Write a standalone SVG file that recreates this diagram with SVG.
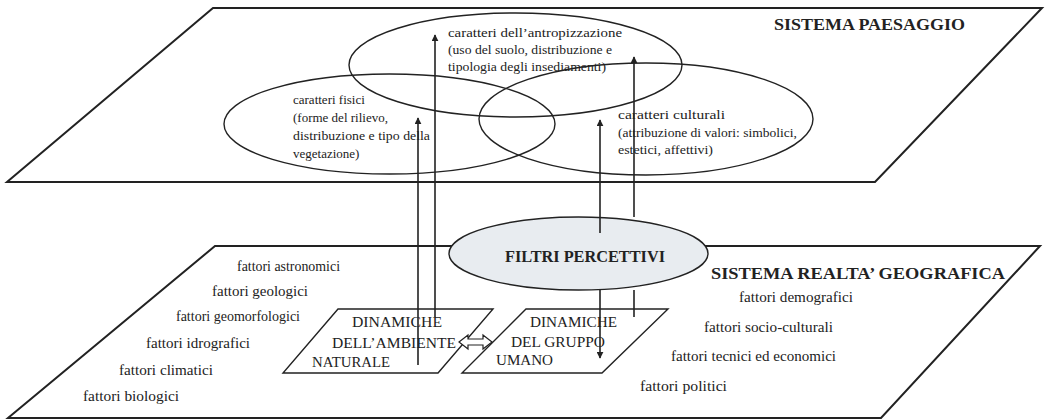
<svg xmlns="http://www.w3.org/2000/svg" width="1047" height="420" viewBox="0 0 1047 420">
<defs>
<style>
.plane{fill:#fff;stroke:#222;stroke-width:2;stroke-linejoin:miter}
.ell{fill:none;stroke:#222;stroke-width:1.4}
.box{fill:none;stroke:#222;stroke-width:1.4}
.ln{fill:none;stroke:#222;stroke-width:1.6}
.t{font-family:"Liberation Serif","Times New Roman",serif;fill:#222;font-size:13px}
.f{font-family:"Liberation Serif","Times New Roman",serif;fill:#222;font-size:14px}
.c{font-family:"Liberation Serif","Times New Roman",serif;fill:#222;font-size:14px}
.h{font-family:"Liberation Serif","Times New Roman",serif;fill:#222;font-size:17px;font-weight:bold}
</style>
<marker id="ah" viewBox="0 0 10 10" refX="9" refY="5" markerWidth="7" markerHeight="7" markerUnits="userSpaceOnUse" orient="auto">
<path d="M0,0 L10,5 L0,10 Z" fill="#222"/>
</marker>
</defs>
<rect width="1047" height="420" fill="#fff"/>

<g id="sistema-paesaggio">
<polygon class="plane" points="213,8 1042,8 875,182 7,182"/>
<text class="h" x="774" y="30" textLength="191" lengthAdjust="spacingAndGlyphs">SISTEMA PAESAGGIO</text>
</g>

<g id="sistema-realta">
<polygon class="plane" points="215,246 1040,246 881,418 8,418"/>
<text class="h" x="711" y="279" textLength="294" lengthAdjust="spacingAndGlyphs">SISTEMA REALTA’ GEOGRAFICA</text>
<text class="f" x="237" y="271" textLength="103" lengthAdjust="spacingAndGlyphs">fattori astronomici</text>
<text class="f" x="212" y="296" textLength="96" lengthAdjust="spacingAndGlyphs">fattori geologici</text>
<text class="f" x="176" y="321" textLength="124" lengthAdjust="spacingAndGlyphs">fattori geomorfologici</text>
<text class="f" x="146" y="348" textLength="104" lengthAdjust="spacingAndGlyphs">fattori idrografici</text>
<text class="f" x="119" y="375" textLength="94" lengthAdjust="spacingAndGlyphs">fattori climatici</text>
<text class="f" x="83" y="401" textLength="96" lengthAdjust="spacingAndGlyphs">fattori biologici</text>
<text class="f" x="739" y="302" textLength="114" lengthAdjust="spacingAndGlyphs">fattori demografici</text>
<text class="f" x="704" y="332" textLength="129" lengthAdjust="spacingAndGlyphs">fattori socio-culturali</text>
<text class="f" x="671" y="361" textLength="165" lengthAdjust="spacingAndGlyphs">fattori tecnici ed economici</text>
<text class="f" x="640" y="391" textLength="87" lengthAdjust="spacingAndGlyphs">fattori politici</text>
</g>

<g id="caratteri-fisici">
<ellipse class="ell" cx="389.5" cy="124" rx="165.5" ry="50"/>
<text class="t" x="293" y="104">caratteri fisici</text>
<text class="t" x="293" y="122">(forme del rilievo,</text>
<text class="t" x="293" y="140" textLength="137" lengthAdjust="spacingAndGlyphs">distribuzione e tipo della</text>
<text class="t" x="293" y="158">vegetazione)</text>
</g>

<g id="caratteri-antropizzazione">
<ellipse class="ell" cx="515.5" cy="65" rx="166.5" ry="52"/>
<text class="t" x="448" y="37" textLength="174" lengthAdjust="spacingAndGlyphs">caratteri dell’antropizzazione</text>
<text class="t" x="448" y="54" textLength="164" lengthAdjust="spacingAndGlyphs">(uso del suolo, distribuzione e</text>
<text class="t" x="448" y="71" textLength="158" lengthAdjust="spacingAndGlyphs">tipologia degli insediamenti)</text>
</g>

<g id="caratteri-culturali">
<ellipse class="ell" cx="646" cy="119" rx="167" ry="56"/>
<text class="t" x="618" y="119" textLength="107" lengthAdjust="spacingAndGlyphs">caratteri culturali</text>
<text class="t" x="618" y="137" textLength="179" lengthAdjust="spacingAndGlyphs">(attribuzione di valori: simbolici,</text>
<text class="t" x="618" y="154" textLength="95" lengthAdjust="spacingAndGlyphs">estetici, affettivi)</text>
</g>

<g id="dinamiche-ambiente">
<polygon class="box" points="338,309 493,309 438,373 283,373"/>
<text class="c" x="352" y="327" textLength="90" lengthAdjust="spacingAndGlyphs">DINAMICHE</text>
<text class="c" x="332" y="348" textLength="124" lengthAdjust="spacingAndGlyphs">DELL’AMBIENTE</text>
<text class="c" x="312" y="367" textLength="78" lengthAdjust="spacingAndGlyphs">NATURALE</text>
</g>

<g id="dinamiche-gruppo">
<polygon class="box" points="526,309 668,309 602,373 462,373"/>
<text class="c" x="530" y="327" textLength="87" lengthAdjust="spacingAndGlyphs">DINAMICHE</text>
<text class="c" x="511" y="347" textLength="94" lengthAdjust="spacingAndGlyphs">DEL GRUPPO</text>
<text class="c" x="496" y="365" textLength="57" lengthAdjust="spacingAndGlyphs">UMANO</text>
</g>

<g id="connectors">
<line class="ln" x1="418" y1="365" x2="418" y2="118" marker-end="url(#ah)"/>
<line class="ln" x1="435" y1="317" x2="435" y2="35" marker-end="url(#ah)"/>
<line class="ln" x1="600" y1="233" x2="600" y2="120" marker-end="url(#ah)"/>
<line class="ln" x1="634" y1="217" x2="634" y2="57" marker-end="url(#ah)"/>
<line class="ln" x1="600" y1="290" x2="600" y2="358" marker-end="url(#ah)"/>
<line class="ln" x1="634" y1="290" x2="634" y2="317"/>
<polygon fill="#fff" stroke="#222" stroke-width="1.2" points="459,342 468,335 468,339 483,339 483,335 492,342 483,349 483,345 468,345 468,349"/>
</g>

<g id="filtri-percettivi">
<ellipse cx="578.5" cy="253.5" rx="129.5" ry="36.5" fill="#e8ecf0" stroke="#222" stroke-width="1.4"/>
<line class="ln" x1="600" y1="217" x2="600" y2="233"/>
<text x="585" y="262" text-anchor="middle" textLength="160" lengthAdjust="spacingAndGlyphs" style="font-family:'Liberation Serif','Times New Roman',serif;font-size:16px;font-weight:bold;fill:#222">FILTRI PERCETTIVI</text>
</g>
</svg>
